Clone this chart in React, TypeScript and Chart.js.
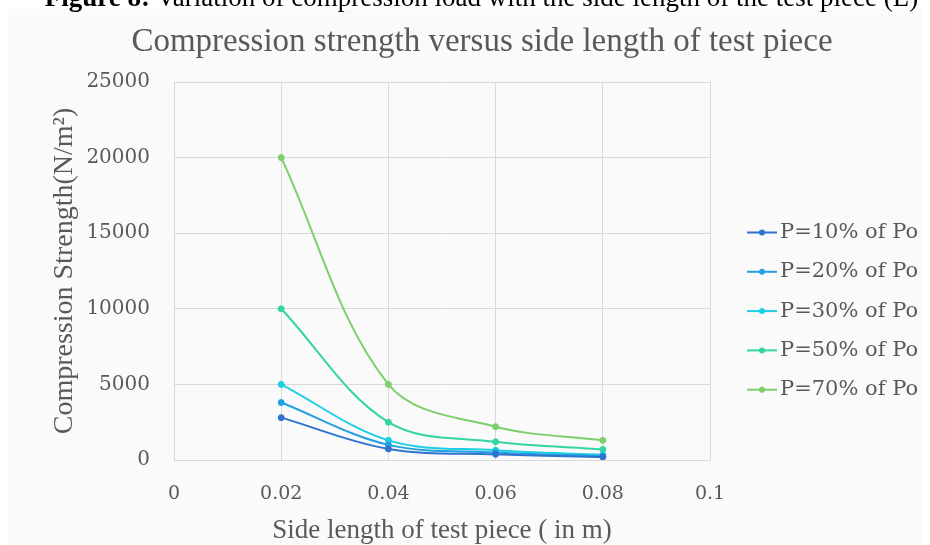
import React, { useEffect, useRef } from "react";
import { Chart, registerables } from "chart.js";

Chart.register(...registerables);

// ---- data ----
const sideLengths = [0.02, 0.04, 0.06, 0.08];
const seriesLabels = ["P=10% of Po", "P=20% of Po", "P=30% of Po", "P=50% of Po", "P=70% of Po"];
const p10 = [2800, 730, 380, 200];
const p20 = [3800, 1000, 500, 260];
const p30 = [5000, 1300, 640, 340];
const p50 = [10000, 2500, 1200, 700];
const p70 = [20000, 5000, 2200, 1300];
const seriesValues = [p10, p20, p30, p50, p70];
const seriesColors = ["#2E73CE", "#22A0E2", "#1ECFE4", "#34D5A2", "#7CCF6A"];
const xTickStep = 0.02;
const xMax = 0.1;
const yTickStep = 5000;
const yMax = 25000;

const chartTitle = "Compression strength versus side length of test piece";
const xTitle = "Side length of test piece ( in m)";
const yTitle = "Compression Strength(N/m²)";
const captionBold = "Figure 8:";
const captionRest = " Variation of compression load with the side length of the test piece (L)";

const GREY = "#595959";
const GRID = "#d9d9d9";
const TITLE_FONT = "'Liberation Serif', serif";
const TICK_FONT = "'DejaVu Serif', serif";

const legendPlugin = {
  id: "sideLegend",
  afterDraw(chart: any) {
    const ctx = chart.ctx;
    const x0 = 739;
    const x1 = 769;
    const tx = 772;
    const top = 223.5;
    const step = 39.3;
    chart.data.datasets.forEach((ds: any, i: number) => {
      const y = top + i * step;
      ctx.save();
      ctx.strokeStyle = ds.borderColor;
      ctx.lineWidth = 2;
      ctx.beginPath();
      ctx.moveTo(x0, y);
      ctx.lineTo(x1, y);
      ctx.stroke();
      ctx.fillStyle = ds.borderColor;
      ctx.beginPath();
      ctx.arc((x0 + x1) / 2, y, 3, 0, Math.PI * 2);
      ctx.fill();
      ctx.fillStyle = GREY;
      ctx.font = `21px ${TICK_FONT}`;
      ctx.textBaseline = "middle";
      ctx.textAlign = "left";
      ctx.fillText(ds.label, tx, y);
      ctx.restore();
    });
  },
};

export default function App() {
  const canvasRef = useRef<HTMLCanvasElement | null>(null);

  useEffect(() => {
    const canvas = canvasRef.current;
    if (!canvas) return;
    const datasets = seriesLabels.map((label, i) => ({
      label,
      data: sideLengths.map((x, j) => ({ x, y: seriesValues[i][j] })),
      borderColor: seriesColors[i],
      backgroundColor: seriesColors[i],
      pointBackgroundColor: seriesColors[i],
      pointBorderColor: seriesColors[i],
      pointRadius: 3,
      pointBorderWidth: 1,
      borderWidth: 2,
      tension: 0.35,
      fill: false,
    }));
    const chart = new Chart(canvas, {
      type: "line",
      data: { datasets },
      options: {
        animation: false,
        responsive: false,
        devicePixelRatio: 1,
        layout: { padding: 0 },
        plugins: {
          legend: { display: false },
          tooltip: { enabled: false },
          title: {
            display: true,
            text: chartTitle,
            color: GREY,
            font: { family: TITLE_FONT, size: 33, weight: "normal", lineHeight: 1.2 },
            padding: { top: 13.2, bottom: 20.2 },
          },
        },
        scales: {
          x: {
            type: "linear",
            min: 0,
            max: xMax,
            afterFit: (s: any) => {
              s.height = 85;
            },
            ticks: {
              stepSize: xTickStep,
              color: GREY,
              padding: 23,
              font: { family: TICK_FONT, size: 19 },
              callback: (v: any) => String(parseFloat(Number(v).toFixed(2))),
            },
            grid: { color: GRID, lineWidth: 1, drawTicks: false },
            border: { display: true, color: GRID, width: 1 },
            title: {
              display: true,
              text: xTitle,
              color: GREY,
              font: { family: TITLE_FONT, size: 27 },
              padding: { top: 0, bottom: -2 },
            },
          },
          y: {
            min: 0,
            max: yMax,
            afterFit: (s: any) => {
              s.width = 166;
            },
            ticks: {
              stepSize: yTickStep,
              color: GREY,
              padding: 24,
              font: { family: TICK_FONT, size: 20 },
              callback: (v: any) => String(v),
            },
            grid: { color: GRID, lineWidth: 1, drawTicks: false },
            border: { display: true, color: GRID, width: 1 },
            title: {
              display: true,
              text: yTitle,
              color: GREY,
              font: { family: TITLE_FONT, size: 28 },
              padding: { top: 40, bottom: 0 },
            },
          },
          legendSpace: {
            type: "linear",
            position: "right",
            display: true,
            afterFit: (s: any) => {
              s.width = 246;
            },
            ticks: { display: false },
            grid: { display: false, drawOnChartArea: false },
            border: { display: false },
            title: { display: false },
          },
        },
      },
      plugins: [legendPlugin],
    } as any);
    return () => chart.destroy();
  }, []);

  return (
    <div>
      <div
        style={{
          position: "absolute",
          top: -15.6,
          left: 16.5,
          width: 930,
          textAlign: "center",
          fontFamily: TITLE_FONT,
          fontSize: 27,
          lineHeight: "27px",
          color: "#000",
          whiteSpace: "nowrap",
          zIndex: 2,
        }}
      >
        <b>{captionBold}</b>
        {captionRest}
      </div>
      <div
        style={{
          position: "relative",
          width: 922,
          height: 536,
          marginTop: 1,
          background: "#fafafa",
          overflow: "hidden",
          zIndex: 1,
        }}
      >
        <canvas
          ref={canvasRef}
          width={948}
          height={536}
          style={{ position: "absolute", left: 0, top: 0, width: 948, height: 536 }}
        />
      </div>
    </div>
  );
}
